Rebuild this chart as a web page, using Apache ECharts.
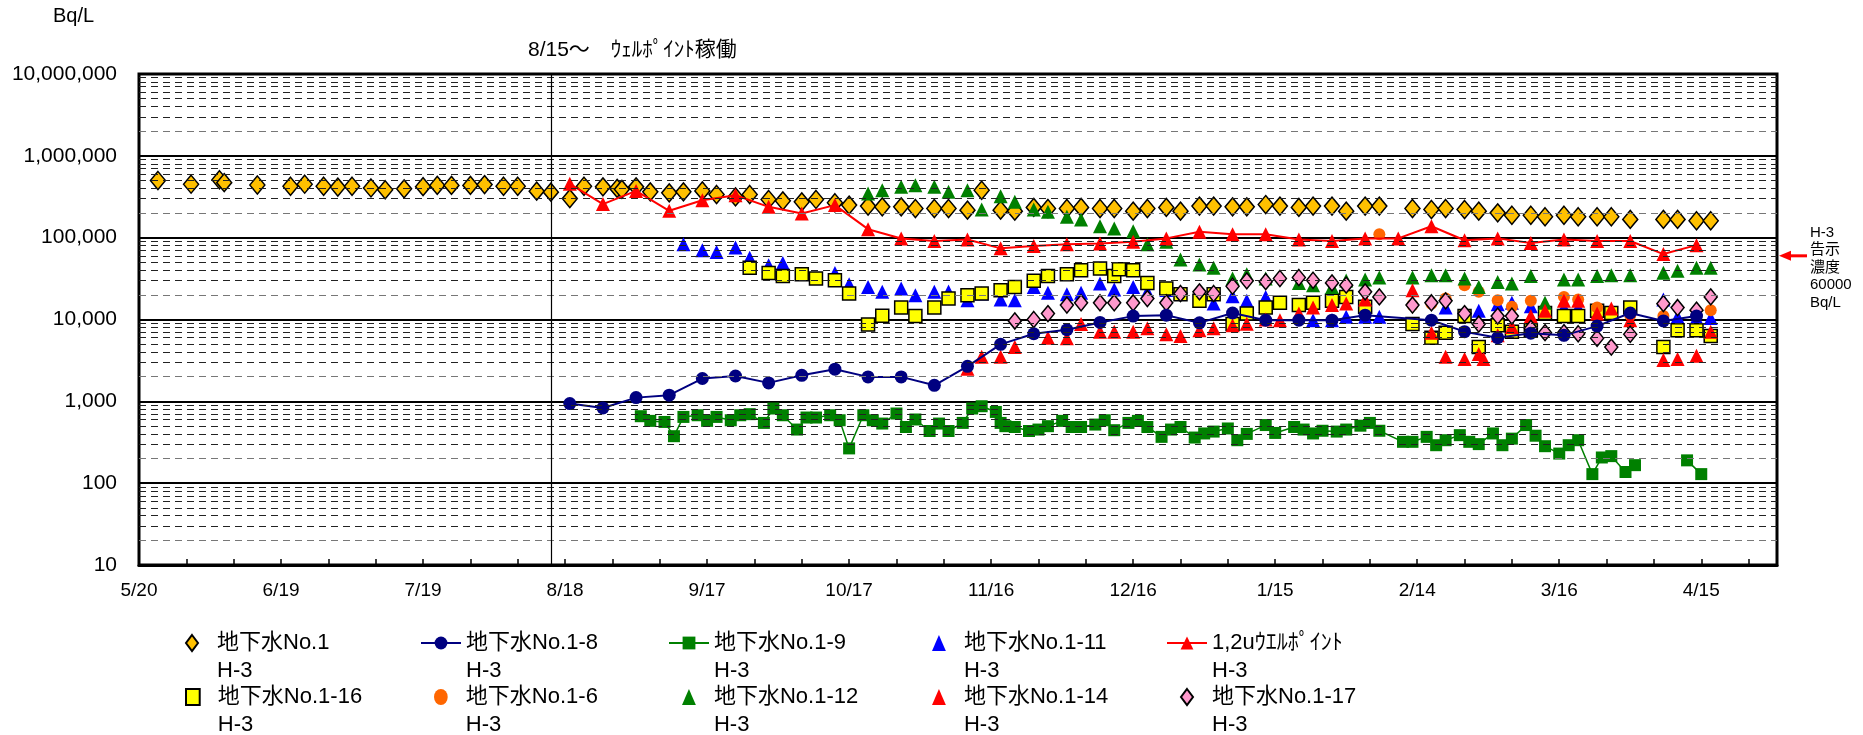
<!DOCTYPE html>
<html>
<head>
<meta charset="utf-8">
<script src="https://cdn.jsdelivr.net/npm/echarts@6/dist/echarts.min.js"></script>
<style>
  html, body { margin: 0; background: #fff; }
  #chart { width: 1863px; height: 735px; }
</style>
</head>
<body>
<div id="chart"></div>
<script>
// x values are days counted from 2013/5/20
const startYear = 2013
const startMonth = 4
const startDay = 20
const axisMaxDay = 346
const wellpointStartDay = 87
const limitValue = 60000

const no1Days = [4, 11, 17, 18, 25, 32, 35, 39, 42, 45, 49, 52, 56, 60, 63, 66, 70, 73, 77, 80, 84, 87, 91, 94, 98, 101, 102, 105, 108, 112, 115, 119, 122, 126, 129, 133, 136, 140, 143, 147, 150, 154, 157, 161, 164, 168, 171, 175, 178, 182, 185, 189, 192, 196, 199, 203, 206, 210, 213, 217, 220, 224, 227, 231, 234, 238, 241, 245, 248, 252, 255, 259, 262, 269, 273, 276, 280, 283, 287, 290, 294, 297, 301, 304, 308, 311, 315, 322, 325, 329, 332]
const no1Values = [500000, 450000, 510000, 470000, 440000, 425000, 450000, 425000, 415000, 425000, 405000, 385000, 395000, 420000, 435000, 435000, 435000, 445000, 425000, 425000, 370000, 360000, 300000, 425000, 418000, 400000, 390000, 418000, 363000, 353000, 363000, 373000, 337000, 315000, 337000, 293000, 282000, 274000, 293000, 267000, 250000, 243000, 238000, 238000, 227000, 227000, 227000, 217000, 380000, 217000, 211000, 234000, 227000, 227000, 234000, 227000, 227000, 211000, 227000, 234000, 211000, 243000, 243000, 238000, 238000, 254000, 243000, 234000, 243000, 243000, 211000, 243000, 243000, 227000, 221000, 227000, 221000, 211000, 201000, 188000, 188000, 180000, 188000, 180000, 180000, 180000, 167000, 167000, 167000, 161000, 161000]

const no1_8Days = [91, 98, 105, 112, 119, 126, 133, 140, 147, 154, 161, 168, 175, 182, 189, 196, 203, 210, 217, 224, 231, 238, 245, 252, 259, 273, 280, 287, 294, 301, 308, 315, 322, 329]
const no1_8Values = [940, 830, 1110, 1190, 1900, 2040, 1680, 2080, 2470, 1990, 1990, 1570, 2680, 4970, 6700, 7500, 9200, 11000, 11300, 9100, 12000, 9800, 9800, 9800, 11300, 9800, 7100, 6000, 6800, 6400, 8300, 12000, 9600, 11000]

const no1_9Days = [106, 108, 111, 113, 115, 118, 120, 122, 125, 127, 129, 132, 134, 136, 139, 141, 143, 146, 148, 150, 153, 155, 157, 160, 162, 164, 167, 169, 171, 174, 176, 178, 181, 182, 183, 185, 188, 190, 192, 195, 197, 199, 202, 204, 206, 209, 211, 213, 216, 218, 220, 223, 225, 227, 230, 232, 234, 238, 240, 244, 246, 248, 250, 253, 255, 258, 260, 262, 267, 269, 272, 274, 276, 279, 281, 283, 286, 288, 290, 293, 295, 297, 300, 302, 304, 307, 309, 311, 314, 316, 320, 327, 330]
const no1_9Values = [658, 577, 560, 375, 645, 676, 577, 645, 587, 676, 697, 545, 817, 676, 452, 634, 634, 676, 587, 266, 676, 587, 535, 710, 486, 600, 434, 535, 434, 545, 817, 871, 742, 545, 497, 486, 434, 452, 497, 577, 486, 486, 520, 587, 444, 545, 577, 486, 368, 452, 486, 361, 405, 427, 466, 335, 400, 513, 411, 486, 452, 405, 437, 427, 452, 504, 545, 437, 320, 320, 368, 291, 335, 386, 320, 300, 405, 291, 350, 513, 380, 283, 230, 291, 335, 129, 206, 214, 137, 166, null, 190, 129]

const no1_11Days = [115, 119, 122, 126, 129, 133, 136, 147, 150, 154, 157, 161, 164, 168, 171, 175, 178, 182, 185, 189, 192, 196, 199, 203, 206, 210, 213, 217, 227, 231, 234, 238, 241, 248, 252, 255, 259, 262, 276, 283, 287, 290, 294, 301, 304, 322, 325, 329, 332]
const no1_11Values = [83000, 70000, 67000, 76000, 57000, 46000, 49000, 37000, 27000, 25000, 21800, 23900, 19800, 21800, 22000, 17200, 20800, 17500, 17200, 25000, 21200, 20400, 21200, 27500, 23300, 25000, 21800, 22900, 15700, 19300, 16900, 18900, 16000, 9800, 9800, 10800, 10800, 10800, 14000, 12800, 15400, 16000, 14500, 14000, 14000, 17500, 10800, 10400, 10400]

const wellpointDays = [91, 98, 105, 112, 119, 126, 133, 140, 147, 154, 161, 168, 175, 182, 189, 196, 203, 210, 217, 224, 231, 238, 245, 252, 259, 266, 273, 280, 287, 294, 301, 308, 315, 322, 329]
const wellpointValues = [455000, 257000, 373000, 213000, 287000, 330000, 238000, 197000, 250000, 127000, 97700, 91000, 95000, 74000, 79000, 83000, 85000, 89000, 98000, 118000, 110000, 110000, 95000, 91000, 98000, 98000, 138000, 93000, 98000, 86000, 95000, 91000, 91000, 63000, 81000]

const no1_16Days = [129, 133, 136, 140, 143, 147, 150, 154, 157, 161, 164, 168, 171, 175, 178, 182, 185, 189, 192, 196, 199, 203, 206, 207, 210, 213, 217, 220, 224, 227, 231, 234, 238, 241, 245, 248, 252, 255, 259, 269, 273, 276, 280, 283, 287, 290, 294, 297, 301, 304, 308, 311, 315, 322, 325, 329, 332]
const no1_16Values = [43000, 37000, 33900, 35800, 31700, 30200, 20800, 8700, 11100, 14000, 11000, 14000, 18100, 19800, 20800, 22800, 25000, 29700, 33900, 35800, 40000, 42000, 33900, 41000, 40000, 28000, 24000, 20400, 16900, 20400, 8800, 11800, 14000, 16000, 15000, 16000, 16900, 18900, 14300, 8800, 6000, 6900, 11000, 4600, 8500, 7100, 7400, 12000, 11000, 11000, 12800, 12000, 14000, 4600, 7400, 7400, 6300]

const no1_6Days = [262, 269, 273, 276, 280, 283, 287, 290, 294, 301, 304, 308, 315, 322, 329, 332]
const no1_6Values = [110000, 15000, 15600, 18000, 26300, 21800, 17200, 14300, 17000, 18900, 17500, 14000, 11300, 11000, 11300, 13000]

const no1_12Days = [154, 157, 161, 164, 168, 171, 175, 178, 182, 185, 189, 192, 196, 199, 203, 206, 210, 213, 217, 220, 224, 227, 231, 234, 238, 245, 248, 252, 255, 259, 262, 269, 273, 276, 280, 283, 287, 290, 294, 297, 301, 304, 308, 311, 315, 322, 325, 329, 332]
const no1_12Values = [347000, 380000, 418000, 438000, 418000, 363000, 380000, 221000, 321000, 274000, 221000, 207000, 180000, 167000, 138000, 129000, 120000, 83000, 89000, 54000, 47000, 43000, 31700, 35800, 31700, 28000, 26300, 25000, 30000, 30800, 32600, 32600, 34800, 34800, 31700, 25000, 28800, 27500, 33900, 16000, 30800, 30800, 33900, 34800, 34800, 37200, 39300, 43000, 43000]

const no1_14Days = [175, 178, 182, 185, 192, 196, 199, 203, 206, 210, 213, 217, 220, 224, 227, 231, 234, 238, 241, 245, 248, 252, 255, 259, 269, 273, 276, 280, 283, 284, 287, 290, 294, 297, 301, 304, 308, 311, 315, 322, 325, 329, 332]
const no1_14Values = [2500, 3500, 3500, 4600, 6000, 5900, 8800, 7100, 7100, 7100, 7800, 6600, 6300, 7400, 7800, 8500, 8900, 10000, 9800, 11800, 14000, 15000, 15700, 17500, 22800, 6900, 3500, 3300, 3800, 3300, 6400, 8100, 11000, 12800, 16900, 16900, 11800, 13600, 9800, 3200, 3300, 3600, 7100]

const no1_17Days = [185, 189, 192, 196, 199, 203, 206, 210, 213, 217, 220, 224, 227, 231, 234, 238, 241, 245, 248, 252, 255, 259, 262, 269, 273, 276, 280, 283, 287, 290, 294, 297, 301, 304, 308, 311, 315, 322, 325, 329, 332]
const no1_17Values = [9600, 10000, 11800, 15000, 16000, 16000, 16000, 16000, 18000, 16000, 20800, 21800, 20800, 25500, 29700, 29000, 31700, 32600, 30200, 28000, 26300, 21800, 18900, 15000, 16000, 16900, 11800, 8800, 11000, 11000, 7800, 6900, 6900, 6700, 5900, 4600, 6600, 15600, 14000, 13000, 18900]

const FONT = "'Liberation Sans', 'Noto Sans CJK JP', sans-serif"

const pairs = (days, values) => days.map((d, i) => [d, values[i]])

const dayLabel = (v) => {
  const d = new Date(startYear, startMonth, startDay + v)
  return d.getMonth() + 1 + '/' + d.getDate()
}

// legend icons keep their own shape (built-in symbols get stretched to the item box)
const ICON_DIAMOND = 'path://M6,0L12,8L6,16L0,8Z'
const ICON_RECT = 'path://M0,0L12,0L12,14L0,14Z'
const ICON_TRIANGLE = 'path://M6.5,0L13,15L0,15Z'
const ICON_CIRCLE = 'path://M6,0A6,7,0,1,1,6,14A6,7,0,1,1,6,0Z'

const scatter = (name, days, values, symbol, size, itemStyle, icon) => ({
  name,
  type: 'scatter',
  data: pairs(days, values),
  symbol,
  symbolSize: size,
  itemStyle: { opacity: 1, ...itemStyle },
  legendIcon: icon,
})

const line = (name, days, values, symbol, size, color, width) => ({
  name,
  type: 'line',
  data: pairs(days, values),
  symbol,
  symbolSize: size,
  showAllSymbol: true,
  itemStyle: { color, opacity: 1 },
  lineStyle: { color, width },
})

const dataSeries = [
  scatter('地下水No.1\nH-3', no1Days, no1Values, 'diamond', [15, 18], { color: '#FFC000', borderColor: '#000', borderWidth: 1.5 }, ICON_DIAMOND),
  line('地下水No.1-8\nH-3', no1_8Days, no1_8Values, 'circle', 13, '#000080', 2),
  line('地下水No.1-9\nH-3', no1_9Days, no1_9Values, 'rect', 12, '#008000', 1.5),
  scatter('地下水No.1-11\nH-3', no1_11Days, no1_11Values, 'triangle', 14, { color: '#0000FF' }, ICON_TRIANGLE),
  line('1,2uｳｴﾙﾎﾟｲﾝﾄ\nH-3', wellpointDays, wellpointValues, 'triangle', 14, '#FF0000', 2),
  scatter('地下水No.1-16\nH-3', no1_16Days, no1_16Values, 'rect', 13, { color: '#FFFF00', borderColor: '#000', borderWidth: 1.5 }, ICON_RECT),
  scatter('地下水No.1-6\nH-3', no1_6Days, no1_6Values, 'circle', 12, { color: '#FF6600' }, ICON_CIRCLE),
  scatter('地下水No.1-12\nH-3', no1_12Days, no1_12Values, 'triangle', 14, { color: '#008000' }, ICON_TRIANGLE),
  scatter('地下水No.1-14\nH-3', no1_14Days, no1_14Values, 'triangle', 14, { color: '#FF0000' }, ICON_TRIANGLE),
  scatter('地下水No.1-17\nH-3', no1_17Days, no1_17Values, 'diamond', [13, 16], { color: '#FF99CC', borderColor: '#000', borderWidth: 1.5 }, ICON_DIAMOND),
]

// dashed minor grid lines at 2..9 x each decade, plus the 8/15 marker
const minorLines = []
for (let p = 1; p <= 6; p++) {
  for (let k = 2; k <= 9; k++) {
    minorLines.push({
      yAxis: k * Math.pow(10, p),
      lineStyle: { color: k === 2 ? '#777' : '#222', type: [7, 5], width: 1 },
    })
  }
}

const gridSeries = {
  type: 'line',
  data: [],
  silent: true,
  z: 1,
  markLine: {
    silent: true,
    symbol: 'none',
    animation: false,
    label: { show: false },
    emphasis: { disabled: true },
    data: [
      ...minorLines,
      { xAxis: wellpointStartDay, lineStyle: { color: '#000', type: 'solid', width: 1.2 } },
    ],
  },
}

const legendCols = [171, 420, 668, 918, 1166]
const legendRows = [601, 655]

const chart = echarts.init(document.getElementById('chart'))

const option = {
  animation: false,
  backgroundColor: '#fff',
  grid: {
    left: 139,
    top: 74,
    width: 1638,
    height: 491,
    show: true,
    borderColor: '#000',
    borderWidth: 3,
  },
  xAxis: {
    type: 'value',
    min: 0,
    max: axisMaxDay,
    interval: 10,
    axisLine: { show: true, lineStyle: { color: '#000', width: 3 } },
    axisTick: { show: true, inside: true, length: 6, lineStyle: { color: '#000', width: 1.5 } },
    splitLine: { show: false },
    axisLabel: {
      formatter: (v) => (v % 30 === 0 ? dayLabel(v) : ''),
      fontSize: 19,
      fontFamily: FONT,
      color: '#000',
      margin: 16,
      showMaxLabel: false,
    },
  },
  yAxis: {
    type: 'log',
    logBase: 10,
    min: 10,
    max: 10000000,
    axisLine: { show: false },
    axisTick: { show: false },
    splitLine: { show: true, lineStyle: { color: '#000', width: 2 } },
    axisLabel: {
      formatter: (v) => Math.round(v).toLocaleString('en-US'),
      fontSize: 21,
      fontFamily: FONT,
      color: '#000',
      margin: 22,
    },
  },
  legend: dataSeries.map((s, i) => ({
    data: [s.legendIcon ? { name: s.name, icon: s.legendIcon } : s.name],
    // marker-only icons are narrower than the 40px box, so nudge them right
    left: legendCols[i % 5] + (s.legendIcon ? 14 : 0),
    top: legendRows[Math.floor(i / 5)],
    padding: 0,
    itemWidth: 40,
    itemHeight: 16,
    symbolKeepAspect: true,
    // blank first line keeps the icon level with the first text line
    formatter: (name) => '\n' + name,
    textStyle: {
      fontSize: 22,
      lineHeight: 28,
      fontFamily: FONT,
      color: '#000',
    },
  })),
  series: [gridSeries, ...dataSeries],
}

chart.setOption(option)

const limitY = chart.convertToPixel({ yAxisIndex: 0 }, limitValue)

chart.setOption({
  graphic: [
    {
      type: 'text',
      left: 53,
      top: 6,
      style: { text: 'Bq/L', fontSize: 20, fontFamily: FONT, fill: '#000' },
    },
    {
      type: 'text',
      left: 528,
      top: 40,
      style: { text: '8/15～　ｳｪﾙﾎﾟｲﾝﾄ稼働', fontSize: 21, fontFamily: FONT, fill: '#000' },
    },
    {
      type: 'line',
      shape: { x1: 1788, y1: limitY, x2: 1807, y2: limitY },
      style: { stroke: '#FF0000', lineWidth: 3 },
    },
    {
      type: 'polygon',
      shape: { points: [[1779, limitY], [1791, limitY - 5], [1791, limitY + 5]] },
      style: { fill: '#FF0000' },
    },
    {
      type: 'text',
      left: 1810,
      top: limitY - 32,
      style: {
        text: 'H-3\n告示\n濃度\n60000\nBq/L',
        fontSize: 15,
        lineHeight: 17.5,
        fontFamily: FONT,
        fill: '#000',
      },
    },
  ],
})
</script>
</body>
</html>
